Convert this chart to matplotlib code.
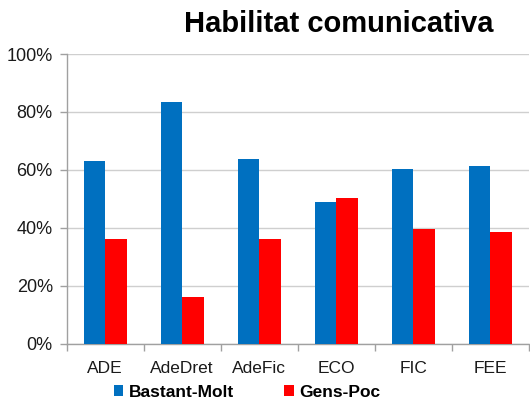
import matplotlib
matplotlib.use("Agg")
import matplotlib.pyplot as plt
import numpy as np
from matplotlib.ticker import PercentFormatter, FixedLocator

plt.rcParams['font.family'] = ['Liberation Sans', 'DejaVu Sans']

categories = ["ADE", "AdeDret", "AdeFic", "ECO", "FIC", "FEE"]
bastant_molt = [63.2, 83.4, 63.6, 48.9, 60.4, 61.3]
gens_poc = [36.1, 16.3, 36.1, 50.4, 39.7, 38.7]
series_names = ["Bastant-Molt", "Gens-Poc"]
yticks = [0, 20, 40, 60, 80, 100]
title = "Habilitat comunicativa"

blue = "#0070C0"
red = "#FF0000"
grid_c = "#CFCFCF"

fig = plt.figure(figsize=(5.30, 4.03), dpi=100)
ax = fig.add_axes([0.1258, 0.147, 0.872, 0.719])

x = np.arange(len(categories))
w = 0.28
b1 = ax.bar(x - w / 2, bastant_molt, w, color=blue, label=series_names[0], zorder=3)
b2 = ax.bar(x + w / 2, gens_poc, w, color=red, label=series_names[1], zorder=3)

ax.set_xlim(-0.5, len(categories) - 0.5)
ax.set_ylim(0, 100)
ax.set_yticks(yticks)
ax.yaxis.set_major_formatter(PercentFormatter(decimals=0))
ax.yaxis.grid(True, color=grid_c, linewidth=1.0, zorder=0)
ax.set_axisbelow(True)

ax.set_xticks(x)
ax.set_xticklabels(categories)
ax.xaxis.set_minor_locator(FixedLocator(np.arange(-0.5, len(categories), 1.0)))
ax.tick_params(axis='x', which='major', length=0, pad=12.5, labelsize=12.5, labelcolor="#1a1a1a")
ax.tick_params(axis='x', which='minor', length=5, color="#A0A0A0", width=1)
ax.tick_params(axis='y', length=5, color="#A0A0A0", width=1, pad=5, labelsize=13, labelcolor="#1a1a1a")

for s in ['top', 'right']:
    ax.spines[s].set_visible(False)
for s in ['left', 'bottom']:
    ax.spines[s].set_color("#A0A0A0")
    ax.spines[s].set_linewidth(1)

fig.text(0.64, 0.94, title, ha='center', va='center', fontsize=21, fontweight='bold', color='black')

leg = fig.legend(handles=[b1, b2], labels=series_names, loc='center',
                 bbox_to_anchor=(0.466, 0.026), ncol=2, frameon=False,
                 prop={'weight': 'bold', 'size': 12.5}, handlelength=0.55, handleheight=0.6,
                 handletextpad=0.3, columnspacing=2.9, borderpad=0, borderaxespad=0)

fig.savefig("out.png", dpi=100)
